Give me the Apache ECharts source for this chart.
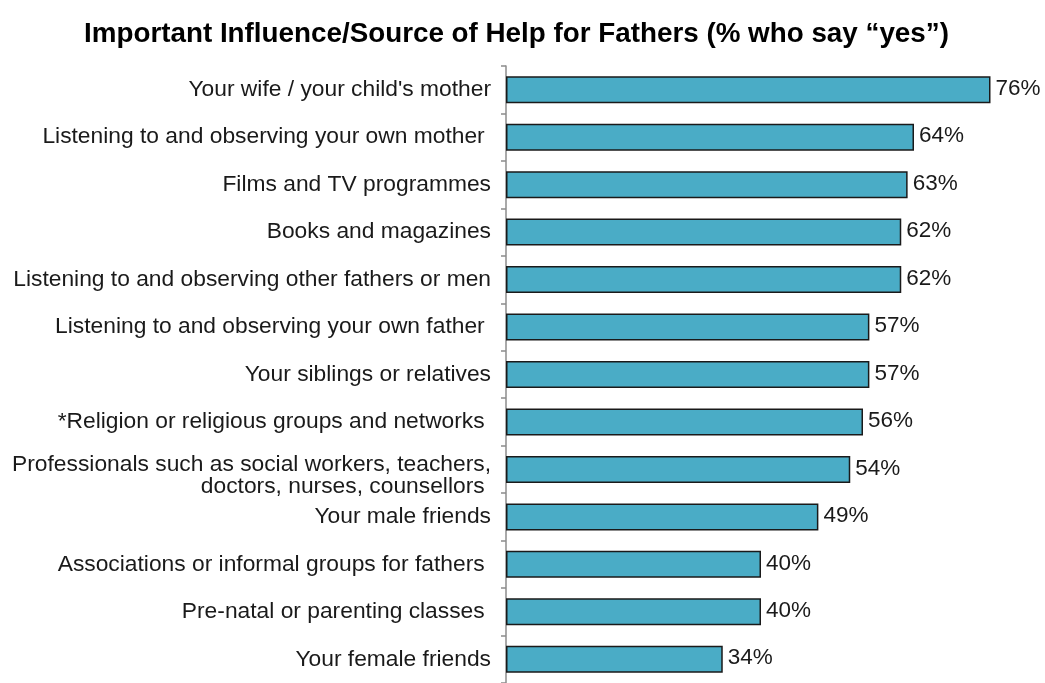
<!DOCTYPE html>
<html>
<head>
<meta charset="utf-8">
<script src="https://cdn.jsdelivr.net/npm/echarts@6/dist/echarts.min.js"></script>
<style>
html,body{margin:0;padding:0;background:#fff;}
#chart{width:1045px;height:683px;}
</style>
</head>
<body>
<div id="chart"></div>
<script>
const titleText = 'Important Influence/Source of Help for Fathers (% who say \u201cyes\u201d)';
const categories = [
  "Your wife / your child's mother",
  "Listening to and observing your own mother ",
  "Films and TV programmes",
  "Books and magazines",
  "Listening to and observing other fathers or men",
  "Listening to and observing your own father ",
  "Your siblings or relatives",
  "*Religion or religious groups and networks ",
  "Professionals such as social workers, teachers,\ndoctors, nurses, counsellors ",
  "Your male friends",
  "Associations or informal groups for fathers ",
  "Pre-natal or parenting classes ",
  "Your female friends"
];
const values = [76, 64, 63, 62, 62, 57, 57, 56, 54, 49, 40, 40, 34];

const FONT = 'Liberation Sans, Arial, sans-serif';
const chart = echarts.init(document.getElementById('chart'), null, {renderer: 'canvas'});
chart.setOption({
  animation: false,
  backgroundColor: '#ffffff',
  title: {
    text: titleText,
    left: 79,
    top: 15,
    textStyle: {fontFamily: FONT, fontWeight: 'bold', fontSize: 27.8, color: '#000'}
  },
  grid: {left: 506, top: 66, width: 510, height: 621},
  xAxis: {
    type: 'value', min: 0, max: 80, show: false
  },
  yAxis: {
    type: 'category',
    data: categories,
    inverse: true,
    axisLine: {show: true, lineStyle: {color: '#8c8c8c', width: 1.5}},
    axisTick: {show: true, length: 5, lineStyle: {color: '#8c8c8c', width: 1.5}},
    axisLabel: {
      margin: 15, align: 'right',
      fontFamily: FONT, fontSize: 22.8, color: '#1a1a1a', lineHeight: 22,
      formatter: v => v.indexOf('\n') >= 0
        ? '{s| }\n' + v.split('\n').map(l => '{t|' + l + '}').join('\n')
        : v,
      rich: {
        s: {fontSize: 4, lineHeight: 12},
        t: {fontFamily: FONT, fontSize: 22.8, color: '#1a1a1a', lineHeight: 22}
      }
    }
  },
  series: [{
    type: 'bar',
    data: values,
    barWidth: 27,
    itemStyle: {color: '#4aacc6', borderColor: '#1a1a1a', borderWidth: 1.5},
    label: {
      show: true, position: 'right', distance: 5,
      formatter: p => p.value + '%',
      fontFamily: FONT, fontSize: 22.5, color: '#1a1a1a',
      offset: [0, -1]
    }
  }]
});
</script>
</body>
</html>
